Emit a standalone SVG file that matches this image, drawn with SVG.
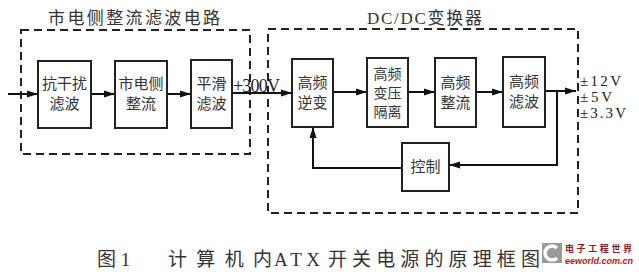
<svg xmlns="http://www.w3.org/2000/svg" width="639" height="279" viewBox="0 0 639 279">
<defs>
<marker id="ah" markerWidth="12" markerHeight="8" refX="11" refY="4" orient="auto" markerUnits="userSpaceOnUse">
<path d="M0,0.5 L11,4 L0,7.5 Z" fill="#111"/>
</marker>
<style>
.box{fill:#fff;stroke:#222;stroke-width:2}
.dash{fill:none;stroke:#222;stroke-width:2;stroke-dasharray:8 5}
.ln{fill:none;stroke:#111;stroke-width:2}
.cj{font-family:"Noto Sans CJK SC","Liberation Serif",sans-serif;font-size:15px;fill:#333;text-anchor:middle}
.cj3{font-size:14px}
.lat{font-family:"Liberation Serif","Noto Sans CJK SC",serif;fill:#222}
.ttl{font-family:"Liberation Serif","Noto Sans CJK SC",serif;font-size:17px;fill:#333}
</style>
</defs>
<rect width="639" height="279" fill="#fff"/>

<g id="group-left">
<rect class="dash" x="21" y="30" width="229" height="124"/>
<text class="ttl" x="48" y="24" textLength="172">市电侧整流滤波电路</text>
</g>
<g id="group-right">
<rect class="dash" x="268" y="29" width="310" height="184"/>
<text class="ttl" x="367" y="24" textLength="115">DC/DC变换器</text>
</g>

<g id="connectors">
<line class="ln" x1="8" y1="94" x2="38" y2="94" marker-end="url(#ah)"/>
<line class="ln" x1="91" y1="94" x2="115" y2="94" marker-end="url(#ah)"/>
<line class="ln" x1="167" y1="94" x2="191" y2="94" marker-end="url(#ah)"/>
<line class="ln" x1="232" y1="93" x2="292" y2="93" marker-end="url(#ah)"/>
<line class="ln" x1="333" y1="92" x2="367" y2="92" marker-end="url(#ah)"/>
<line class="ln" x1="408" y1="92" x2="435" y2="92" marker-end="url(#ah)"/>
<line class="ln" x1="476" y1="92" x2="503" y2="92" marker-end="url(#ah)"/>
<line class="ln" x1="545" y1="91" x2="576" y2="91" marker-end="url(#ah)"/>
<polyline class="ln" points="557,91 557,165 449,165" marker-end="url(#ah)"/>
<polyline class="ln" points="402,168 313,168 313,127" marker-end="url(#ah)"/>
<text class="lat" x="233" y="92" font-size="18" textLength="47">+300V</text>
</g>

<g id="n1"><rect class="box" x="38" y="61" width="53" height="67"/>
<text class="cj" x="64.5" y="89">抗干扰</text><text class="cj" x="64.5" y="109">滤波</text></g>
<g id="n2"><rect class="box" x="115" y="61" width="52" height="67"/>
<text class="cj" x="141" y="89">市电侧</text><text class="cj" x="141" y="109">整流</text></g>
<g id="n3"><rect class="box" x="191" y="60" width="41" height="68"/>
<text class="cj" x="211.5" y="89">平滑</text><text class="cj" x="211.5" y="109">滤波</text></g>
<g id="n4"><rect class="box" x="292" y="59" width="41" height="68"/>
<text class="cj" x="312.5" y="88">高频</text><text class="cj" x="312.5" y="108">逆变</text></g>
<g id="n5"><rect class="box" x="367" y="58" width="41" height="69"/>
<text class="cj cj3" x="387.5" y="79">高频</text><text class="cj cj3" x="387.5" y="98">变压</text><text class="cj cj3" x="387.5" y="117">隔离</text></g>
<g id="n6"><rect class="box" x="435" y="58" width="41" height="69"/>
<text class="cj" x="455.5" y="88">高频</text><text class="cj" x="455.5" y="108">整流</text></g>
<g id="n7"><rect class="box" x="503" y="57" width="42" height="70"/>
<text class="cj" x="524" y="87">高频</text><text class="cj" x="524" y="107">滤波</text></g>
<g id="n8"><rect class="box" x="402" y="143" width="47" height="48"/>
<text class="cj" x="425.5" y="172">控制</text></g>

<g id="outputs">
<text class="lat" x="580" y="86" font-size="15" textLength="41">±12V</text>
<text class="lat" x="580" y="102" font-size="15" textLength="32">±5V</text>
<text class="lat" x="580" y="118" font-size="15" textLength="46">±3.3V</text>
</g>

<g id="caption" font-family="Liberation Serif,'Noto Sans CJK SC',serif" font-size="19" fill="#333">
<text x="97" y="266">图 1</text>
<text x="168" y="266" textLength="104">计算机内</text>
<text x="274" y="266" textLength="46">ATX</text>
<text x="328" y="266" textLength="212">开关电源的原理框图</text>
</g>

<g id="logo">
<rect x="542" y="243" width="20" height="20" fill="#9a9a9a"/>
<path d="M557,248 A7,7 0 1 0 557,258" fill="none" stroke="#fff" stroke-width="3.5"/>
<text x="565" y="252" font-family="'Noto Sans CJK SC',sans-serif" font-size="9" font-weight="bold" fill="#8a1c1c" textLength="67">电子工程世界</text>
<text x="565" y="264" font-family="'Liberation Sans',sans-serif" font-size="9" font-style="italic" font-weight="bold" fill="#b22222" textLength="68">eeworld.com.cn</text>
</g>
</svg>
